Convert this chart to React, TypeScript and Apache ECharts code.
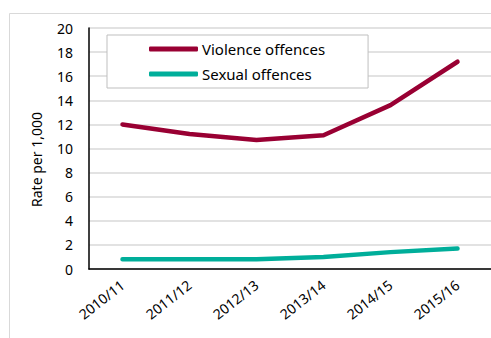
import React, { useEffect, useRef } from "react";
import * as echarts from "echarts";

const categories = ["2010/11", "2011/12", "2012/13", "2013/14", "2014/15", "2015/16"];
const violence = [12.0, 11.2, 10.7, 11.1, 13.6, 17.2];
const sexual = [0.8, 0.8, 0.8, 1.0, 1.4, 1.7];
const seriesNames = ["Violence offences", "Sexual offences"];
const yAxisTitle = "Rate per 1,000";

const FONT = "'Noto Sans', sans-serif";

export default function App() {
  const ref = useRef<HTMLDivElement>(null);
  useEffect(() => {
    const chart = echarts.init(ref.current!, null, { renderer: "svg" });
    chart.setOption({
      animation: false,
      textStyle: { fontFamily: FONT },
      graphic: [
        {
          type: "rect",
          shape: { x: 9.5, y: 13.5, width: 600, height: 400 },
          style: { fill: "none", stroke: "#d9d9d9", lineWidth: 1 },
          silent: true,
          z: -1,
        },
      ],
      grid: { left: 89, top: 28, right: -7, bottom: 69, containLabel: false },
      legend: {
        orient: "vertical",
        left: 107,
        top: 35,
        padding: [6, 43, 6, 42],
        itemGap: 9,
        itemWidth: 49,
        itemHeight: 5,
        icon: "roundRect",
        borderColor: "#bfbfbf",
        borderWidth: 1,
        backgroundColor: "#fff",
        textStyle: { fontFamily: FONT, fontSize: 15, color: "#000", padding: [0, 0, 0, -1], lineHeight: 16 },
        data: seriesNames,
      },
      xAxis: {
        type: "category",
        data: categories,
        boundaryGap: true,
        axisLine: { lineStyle: { color: "#000", width: 1.5 } },
        axisTick: { show: false },
        axisLabel: { rotate: 38, color: "#000", fontSize: 14, margin: 14, fontFamily: FONT },
        splitLine: { show: false },
      },
      yAxis: {
        type: "value",
        min: 0,
        max: 20,
        interval: 2,
        name: yAxisTitle,
        nameLocation: "middle",
        nameGap: 46,
        nameTextStyle: { color: "#000", fontSize: 14, fontFamily: FONT, padding: [0, 22, 0, 0] },
        axisLine: { show: true, lineStyle: { color: "#000", width: 1.5 } },
        axisTick: { show: false },
        axisLabel: { color: "#000", fontSize: 14, margin: 16, fontFamily: FONT },
        splitLine: { lineStyle: { color: "#d9d9d9", width: 1.5 } },
      },
      series: [
        {
          name: seriesNames[0],
          type: "line",
          data: violence,
          symbol: "none",
          color: "#990033",
          lineStyle: { width: 4.5, cap: "round", join: "round" },
        },
        {
          name: seriesNames[1],
          type: "line",
          data: sexual,
          symbol: "none",
          color: "#00AE9A",
          lineStyle: { width: 4.5, cap: "round", join: "round" },
        },
      ],
    });
    return () => chart.dispose();
  }, []);
  return (
    <div
      ref={ref}
      style={{ position: "fixed", left: 0, top: 0, width: 491, height: 338, background: "#fff" }}
    />
  );
}
